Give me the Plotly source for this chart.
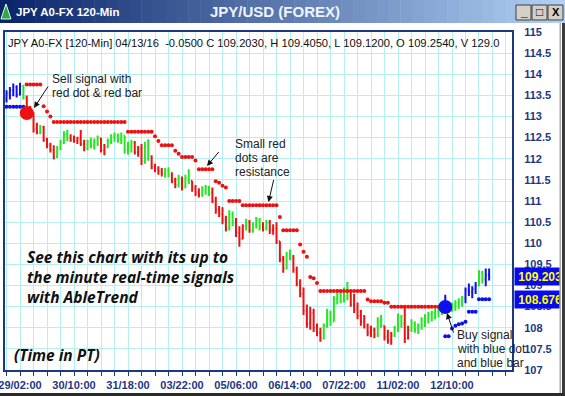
import plotly.graph_objects as go

# ------------------------------------------------------------------ data
tick_bars = [4, 20, 36, 52, 68, 84, 100, 116, 132]
tick_labels = ["29/02:00", "30/10:00", "31/18:00", "03/22:00", "05/06:00",
               "06/14:00", "07/22:00", "11/02:00", "12/10:00"]
price_ticks = [107, 107.5, 108, 108.5, 109, 109.5, 110, 110.5, 111, 111.5,
               112, 112.5, 113, 113.5, 114, 114.5, 115]
price_labels = ["107", "107.5", "108", "108.5", "109", "109.5", "110", "110.5",
                "111", "111.5", "112", "112.5", "113", "113.5", "114", "114.5", "115"]

# B = blue (up trend), G = green (neutral), R = red (down trend)
bar_colors = ("BBBBBGRRRRGRRRRG" "GGGRRRRRGGGGRRGG" "GGGGGGRRRGGRRRRG"
              "GRRGRGGRRRGGGRRR" "RRGGRRRGRGGGRGRR" "RRRGGRRRRRRRRRGG"
              "GGGGGGRRRRRRRRGG" "RRRGGGRRGGGGGGGG" "GGBGGGGGBBBBGGBB")

highs = [113.62, 113.70, 113.78, 113.74, 113.80, 113.75, 113.50, 113.25, 113.10, 112.85, 112.80, 112.78, 112.50, 112.38, 112.32, 112.30,
         112.45, 112.65, 112.68, 112.58, 112.55, 112.52, 112.68, 112.45, 112.45, 112.50, 112.48, 112.55, 112.50, 112.35, 112.48, 112.58,
         112.62, 112.60, 112.62, 112.55, 112.40, 112.45, 112.42, 112.30, 112.35, 112.40, 112.46, 112.08, 111.88, 111.82, 111.78, 111.78,
         111.80, 111.68, 111.55, 111.62, 111.58, 111.62, 111.75, 111.48, 111.38, 111.30, 111.35, 111.38, 111.36, 111.32, 111.10, 110.88,
         110.85, 110.65, 110.78, 110.75, 110.60, 110.40, 110.45, 110.58, 110.55, 110.50, 110.62, 110.60, 110.50, 110.55, 110.55, 110.45,
         110.50, 110.05, 109.70, 109.80, 109.85, 109.72, 109.45, 109.15, 108.95, 108.55, 108.50, 108.45, 108.10, 108.00, 108.10, 108.45,
         108.40, 108.75, 108.92, 108.90, 108.95, 109.08, 108.85, 108.80, 108.60, 108.42, 108.30, 108.10, 108.05, 108.00, 108.25, 108.30,
         108.05, 107.95, 107.90, 108.05, 108.34, 108.30, 108.50, 108.05, 108.20, 108.15, 108.10, 108.25, 108.32, 108.38, 108.40, 108.45,
         108.52, 108.55, 108.78, 108.62, 108.60, 108.65, 108.70, 108.75, 108.95, 109.05, 108.98, 109.08, 109.36, 109.35, 109.40, 109.405]
lows = [113.33, 113.40, 113.48, 113.45, 113.50, 113.40, 113.05, 112.95, 112.62, 112.58, 112.58, 112.40, 112.25, 112.15, 111.98, 112.02,
        112.20, 112.35, 112.42, 112.40, 112.38, 112.35, 112.30, 112.18, 112.20, 112.25, 112.22, 112.30, 112.15, 112.08, 112.25, 112.35,
        112.40, 112.38, 112.35, 112.12, 112.10, 112.15, 112.10, 112.05, 111.85, 111.88, 111.95, 111.75, 111.68, 111.62, 111.58, 111.55,
        111.56, 111.42, 111.30, 111.32, 111.25, 111.30, 111.40, 111.22, 111.12, 111.08, 111.10, 111.15, 111.12, 110.95, 110.70, 110.62,
        110.45, 110.28, 110.30, 110.40, 110.15, 109.92, 110.10, 110.30, 110.25, 110.25, 110.35, 110.30, 110.28, 110.30, 110.22, 110.20,
        109.98, 109.55, 109.30, 109.38, 109.60, 109.30, 108.98, 108.72, 108.30, 108.00, 107.95, 107.90, 107.80, 107.67, 107.72, 108.00,
        108.05, 108.15, 108.55, 108.58, 108.60, 108.65, 108.50, 108.35, 108.20, 108.05, 107.98, 107.80, 107.78, 107.75, 107.78, 108.00,
        107.70, 107.62, 107.60, 107.78, 107.90, 108.00, 107.64, 107.72, 107.90, 107.88, 107.85, 107.95, 108.02, 108.10, 108.15, 108.20,
        108.25, 108.30, 108.42, 108.35, 108.38, 108.40, 108.45, 108.50, 108.58, 108.75, 108.70, 108.80, 108.98, 109.05, 108.98, 109.12]
opens = [113.40, 113.55, 113.62, 113.70, 113.52, 113.70, 113.45, 113.10, 113.00, 112.70, 112.62, 112.75, 112.45, 112.32, 112.20, 112.05,
         112.25, 112.40, 112.58, 112.50, 112.45, 112.42, 112.48, 112.35, 112.25, 112.40, 112.30, 112.42, 112.48, 112.20, 112.28, 112.42,
         112.52, 112.55, 112.45, 112.55, 112.20, 112.30, 112.38, 112.15, 112.25, 111.95, 112.30, 112.05, 111.80, 111.75, 111.70, 111.65,
         111.72, 111.62, 111.48, 111.38, 111.55, 111.32, 111.55, 111.48, 111.30, 111.20, 111.15, 111.28, 111.32, 111.20, 111.00, 110.80,
         110.70, 110.55, 110.35, 110.70, 110.50, 110.25, 110.10, 110.40, 110.50, 110.30, 110.45, 110.55, 110.40, 110.35, 110.48, 110.30,
         110.35, 110.05, 109.62, 109.40, 109.72, 109.65, 109.38, 109.05, 108.80, 108.40, 108.10, 108.35, 108.00, 107.88, 107.75, 108.05,
         108.35, 108.15, 108.68, 108.80, 108.65, 108.85, 108.75, 108.55, 108.45, 108.28, 108.15, 108.05, 107.88, 107.95, 107.82, 108.18,
         108.05, 107.78, 107.70, 107.82, 107.98, 108.25, 108.10, 107.75, 107.95, 108.12, 107.95, 108.05, 108.18, 108.25, 108.30, 108.35,
         108.40, 108.45, 108.50, 108.60, 108.45, 108.55, 108.60, 108.62, 108.70, 108.90, 108.85, 108.92, 109.00, 109.30, 109.15, 109.254]
closes = [113.55, 113.62, 113.70, 113.52, 113.72, 113.45, 113.10, 113.00, 112.70, 112.62, 112.75, 112.45, 112.32, 112.20, 112.05, 112.25,
          112.40, 112.58, 112.50, 112.45, 112.42, 112.48, 112.35, 112.25, 112.40, 112.30, 112.42, 112.48, 112.20, 112.28, 112.42, 112.52,
          112.55, 112.45, 112.55, 112.20, 112.30, 112.38, 112.15, 112.25, 111.95, 112.30, 112.05, 111.80, 111.75, 111.70, 111.65, 111.72,
          111.62, 111.48, 111.38, 111.55, 111.32, 111.55, 111.48, 111.30, 111.20, 111.15, 111.28, 111.32, 111.20, 111.00, 110.80, 110.70,
          110.55, 110.35, 110.70, 110.50, 110.25, 110.10, 110.40, 110.50, 110.30, 110.45, 110.55, 110.40, 110.35, 110.48, 110.30, 110.35,
          110.05, 109.62, 109.40, 109.72, 109.65, 109.38, 109.05, 108.80, 108.40, 108.10, 108.35, 108.00, 107.88, 107.75, 108.05, 108.35,
          108.15, 108.68, 108.80, 108.65, 108.85, 108.75, 108.55, 108.45, 108.28, 108.15, 108.05, 107.88, 107.95, 107.82, 108.18, 108.05,
          107.78, 107.70, 107.82, 107.98, 108.25, 108.10, 107.75, 107.95, 108.12, 107.95, 108.05, 108.18, 108.25, 108.30, 108.35, 108.40,
          108.45, 108.50, 108.70, 108.45, 108.55, 108.60, 108.62, 108.70, 108.90, 108.85, 108.92, 109.00, 109.30, 109.15, 109.25, 109.203]

red_dot_bars = list(range(6, 130))
red_dot_prices = [113.76, 113.76, 113.76, 113.76, 113.76, 113.24, 113.12, 113.00,
                  112.87, 112.87, 112.87, 112.87, 112.87, 112.87, 112.87, 112.87, 112.87, 112.87, 112.87,
                  112.87, 112.87, 112.87, 112.87, 112.87, 112.87, 112.87, 112.87, 112.87, 112.87, 112.87,
                  112.64, 112.64, 112.64, 112.64, 112.64, 112.64, 112.64, 112.64,
                  112.53, 112.42, 112.32, 112.32, 112.32, 112.32, 112.19, 112.12,
                  112.04, 112.04, 112.04, 112.04, 111.96,
                  111.75, 111.75, 111.75, 111.75, 111.75, 111.47, 111.43, 111.36, 111.32,
                  111.00, 111.00, 111.00, 111.00,
                  110.90, 110.90, 110.90, 110.90, 110.90, 110.90, 110.90, 110.90, 110.90, 110.90, 110.90,
                  110.62, 110.31, 110.31, 110.31, 110.31, 110.31,
                  109.97, 109.80, 109.68, 109.20, 109.17, 109.06,
                  108.87, 108.87, 108.87, 108.87, 108.87, 108.87, 108.87, 108.87, 108.87, 108.87, 108.87, 108.87, 108.87, 108.87,
                  108.67, 108.63, 108.63, 108.63, 108.63, 108.59, 108.59,
                  108.50, 108.50, 108.50, 108.50, 108.50, 108.50, 108.50, 108.50, 108.50, 108.50, 108.50, 108.50, 108.50, 108.50, 108.50, 108.50]
blue_dot_bars = [0, 1, 2, 3, 4, 5, 130, 131, 132, 133, 134, 135, 136, 137, 138, 139, 140, 141, 142, 143]
blue_dot_prices = [113.23, 113.23, 113.23, 113.23, 113.23, 113.23,
                   107.80, 107.80, 107.98, 108.05, 108.08, 108.10, 108.14, 108.38, 108.38, 108.38,
                   108.676, 108.676, 108.676, 108.676]
sell_bar, sell_price = 6, 113.08
buy_bar, buy_price = 130, 108.49
last_change, last_volume = -0.05, 129.0

# ------------------------------------------------------------------ styling
RED, GREEN, BLUE = "#ee1111", "#22e822", "#1010ee"
NAVY = "#1c3784"
GRID = "#b4f0f0"
FONT = "Liberation Sans, Arial, sans-serif"
L, R, T, B = 5, 53, 32, 26
W, H = 565, 396
PW, PH = W - L - R, H - T - B


def px(x):
    return (x - L) / PW


def py(y):
    return (H - B - y) / PH


fig = go.Figure()

color_map = {"B": BLUE, "G": GREEN, "R": RED}
for code, col in color_map.items():
    idx = [i for i, c in enumerate(bar_colors) if c == code]
    fig.add_trace(go.Ohlc(
        x=idx,
        open=[opens[i] for i in idx], high=[highs[i] for i in idx],
        low=[lows[i] for i in idx], close=[closes[i] for i in idx],
        increasing=dict(line=dict(color=col, width=2)),
        decreasing=dict(line=dict(color=col, width=2)),
        tickwidth=0.33, hoverinfo="skip", showlegend=False))

fig.add_trace(go.Scatter(x=red_dot_bars, y=red_dot_prices, mode="markers",
                         marker=dict(color=RED, size=4), hoverinfo="skip", showlegend=False))
fig.add_trace(go.Scatter(x=blue_dot_bars, y=blue_dot_prices, mode="markers",
                         marker=dict(color=BLUE, size=4), hoverinfo="skip", showlegend=False))
fig.add_trace(go.Scatter(x=[sell_bar], y=[sell_price], mode="markers",
                         marker=dict(color=RED, size=14), hoverinfo="skip", showlegend=False))
fig.add_trace(go.Scatter(x=[buy_bar], y=[buy_price], mode="markers",
                         marker=dict(color=BLUE, size=14), hoverinfo="skip", showlegend=False))

grid_bars = list(range(0, 149, 4))
label_of = dict(zip(tick_bars, tick_labels))
grid_text = [label_of.get(b, "") for b in grid_bars]

shapes = []
# title bar gradient
n = 48
c0, c1 = (10, 36, 106), (176, 208, 244)
for k in range(n):
    t = k / (n - 1)
    col = "rgb(%d,%d,%d)" % tuple(round(a + (b - a) * t) for a, b in zip(c0, c1))
    shapes.append(dict(type="rect", xref="paper", yref="paper",
                       x0=px(k * W / n), x1=px((k + 1) * W / n + 0.5), y0=py(23), y1=py(0),
                       fillcolor=col, line=dict(width=0), layer="below"))
# icon
shapes.append(dict(type="path", xref="paper", yref="paper",
                   path="M %f %f L %f %f L %f %f Z" % (px(1), py(19), px(6), py(4), px(11), py(19)),
                   fillcolor="#2aa84a", line=dict(color="#e8f8e8", width=1)))
# window buttons
for x0 in (516, 532, 548):
    shapes.append(dict(type="rect", xref="paper", yref="paper",
                       x0=px(x0), x1=px(x0 + 15), y0=py(20), y1=py(5),
                       fillcolor="#d4d0c8", line=dict(color="#404040", width=1)))
# header band in plot
shapes.append(dict(type="rect", xref="paper", yref="paper", x0=0, x1=1, y0=py(47), y1=1,
                   fillcolor="white", line=dict(width=0), layer="between"))
# window frame
shapes.append(dict(type="rect", xref="paper", yref="paper", x0=px(559.5), x1=px(561),
                   y0=py(396), y1=py(23), fillcolor="#a8a8a8", line=dict(width=0)))
shapes.append(dict(type="rect", xref="paper", yref="paper", x0=px(562), x1=px(566),
                   y0=py(396), y1=py(23), fillcolor="#3a3a3a", line=dict(width=0)))
shapes.append(dict(type="rect", xref="paper", yref="paper", x0=px(0), x1=px(566),
                   y0=py(397), y1=py(393), fillcolor="#2a2a2a", line=dict(width=0)))

ann = []


def text(x, y, s, size=12, color="#222222", weight="normal", style="normal",
         family=FONT, xanchor="left", **kw):
    ann.append(dict(x=px(x), y=py(y), xref="paper", yref="paper", text=s, showarrow=False,
                    xanchor=xanchor, yanchor="middle", align="left",
                    font=dict(size=size, color=color, weight=weight, style=style, family=family), **kw))


def arrow(tx, ty, hx, hy):
    ann.append(dict(x=px(hx), y=py(hy), xref="paper", yref="paper", text="",
                    showarrow=True, ax=tx - hx, ay=ty - hy, arrowhead=2, arrowsize=1.2,
                    arrowwidth=1, arrowcolor="#111111"))


# title bar
text(14, 12, "JPY A0-FX 120-Min", size=11.5, color="white", weight="bold")
text(275, 12, "JPY/USD (FOREX)", size=15, color="#eef4ff", weight="bold", xanchor="center")
text(523.5, 12, "_", size=12, color="black", weight="bold", xanchor="center")
text(539.5, 12.5, "□", size=12, color="black", weight="bold", xanchor="center")
text(555.5, 12.5, "X", size=11, color="black", weight="bold", xanchor="center")

# header line inside plot
hdr = ("JPY A0-FX [120-Min] 04/13/16\u00a0 %.4f C %.4f, H %.4f, L %.4f, O %.4f, V %.1f"
       % (last_change, closes[-1], highs[-1], lows[-1], opens[-1], last_volume))
text(6, 42.5, hdr, size=11.2, color="#111111")

# callouts
text(50, 79, "Sell signal with", size=12)
text(50, 92.5, "red dot & red bar", size=12)
arrow(49, 85, 34, 108)
text(233, 143.5, "Small red", size=12)
text(233, 157.5, "dots are", size=12)
text(233, 171.5, "resistance", size=12)
arrow(220, 150.5, 207, 166)
arrow(274, 178.5, 268.5, 202)
text(455, 335, "Buy signal", size=12)
text(455, 348.5, "with blue dot", size=12)
text(455, 362.5, "and blue bar", size=12)
arrow(454, 334, 447, 313)

text(25, 277, "See this chart with its up to<br>the minute real-time signals<br>with AbleTrend",
     size=15.5, color="#111111", weight="bold", style="italic", family="Open Sans")
text(12, 355, "(Time in PT)", size=15.5, color="#111111", weight="bold", style="italic",
     family="Open Sans")

# last price boxes
for val in (closes[-1], blue_dot_prices[-1]):
    ycen = H - B - (val - 107) / 8 * PH
    ann.append(dict(x=px(514), y=py(ycen), xref="paper", yref="paper",
                    text="\u00a0%.3f" % val, showarrow=False, xanchor="left", yanchor="middle",
                    align="left", width=44, height=17, borderpad=0, bgcolor="#0a0aee",
                    font=dict(size=12, color="#ffff00", weight="bold", family=FONT)))

fig.update_layout(
    width=W, height=H, margin=dict(l=L, r=R, t=T, b=B, autoexpand=False),
    paper_bgcolor="white", plot_bgcolor="white",
    shapes=shapes, annotations=ann, showlegend=False,
    xaxis=dict(range=[-0.45, 149.78], tickmode="array", tickvals=grid_bars, ticktext=grid_text,
               ticks="outside", ticklen=4, tickcolor=NAVY, tickwidth=1, automargin=False,
               ticklabeloverflow="allow",
               tickfont=dict(family=FONT, size=11, color=NAVY, weight="bold"),
               showgrid=True, gridcolor=GRID, gridwidth=1, zeroline=False,
               showline=True, linecolor=NAVY, linewidth=2, mirror=True,
               rangeslider=dict(visible=False), fixedrange=True),
    yaxis=dict(range=[107, 115], side="right", tickmode="array", tickvals=price_ticks,
               ticktext=price_labels, ticks="", ticklabelstandoff=8, automargin=False,
               ticklabeloverflow="allow",
               tickfont=dict(family=FONT, size=11, color=NAVY, weight="bold"),
               showgrid=True, gridcolor=GRID, gridwidth=1, zeroline=False,
               showline=True, linecolor=NAVY, linewidth=2, mirror=True, fixedrange=True),
)

fig.write_html("out.html", config={"displayModeBar": False},
               post_script="document.body.style.margin='0';document.body.style.padding='0';")
